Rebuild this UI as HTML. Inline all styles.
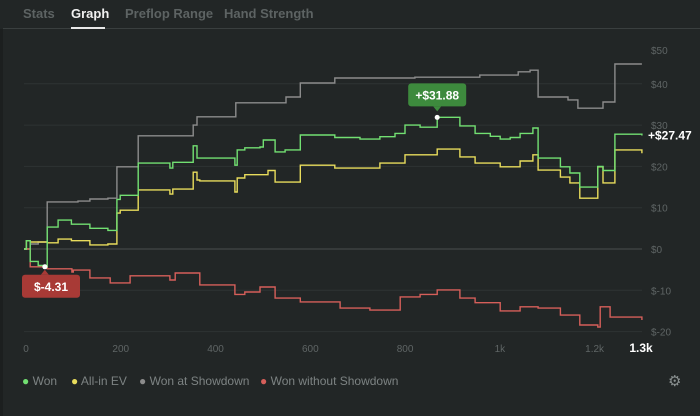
<!DOCTYPE html>
<html><head><meta charset="utf-8"><style>
body{margin:0;background:#222626;width:700px;height:416px;overflow:hidden;font-family:"Liberation Sans",sans-serif;}
.tab{position:absolute;top:6px;font-size:13px;font-weight:bold;color:#5d6363;}
.lg{position:absolute;top:374px;font-size:12px;color:#7d8383;white-space:nowrap}
</style></head><body>
<div style="position:absolute;left:0;top:29px;width:3px;height:387px;background:#1c1f1f"></div>
<div class="tab" style="left:23px">Stats</div>
<div class="tab" style="left:71px;color:#f0f0f0">Graph</div>
<div class="tab" style="left:125px">Preflop Range</div>
<div class="tab" style="left:224px">Hand Strength</div>
<div style="position:absolute;left:3px;top:28px;width:697px;height:1px;background:#3a3f3f"></div>
<div style="position:absolute;left:71px;top:27px;width:34px;height:2px;background:#e8e8e8"></div>
<svg id="chart" width="700" height="416" style="position:absolute;left:0;top:0"></svg>
<script>
const xTicks=[0,200,400,600,800,1000,1200];
const xTickLabels=["0","200","400","600","800","1k","1.2k"];
const yTicks=[-20,-10,0,10,20,30,40,50];
const yTickLabels=["$-20","$-10","$0","$10","$20","$30","$40","$50"];
const wonHands=[0,5,13,30,44,49,72,100,139,177,196,203,241,308,314,357,365,371,445,450,466,498,505,530,551,583,656,709,751,783,804,836,872,920,952,984,1005,1026,1047,1074,1085,1132,1152,1173,1211,1222,1247,1304];
const wonValues=[0,2,-3,-4,-4.31,5.3,7,6,5,4.5,12,13,20.8,19.6,21,25,22,22,20.3,24,24.5,24.7,26.4,23.5,24,27.6,27,26.6,27.2,28,30,29.5,31.88,29.8,28,27.3,26.6,27,28,29.3,22,19.9,18.4,15,20,19,27.8,27.47];
const evHands=[0,5,13,49,72,100,139,177,196,203,241,308,314,357,365,371,445,450,466,498,515,530,583,656,751,804,872,920,952,1005,1047,1074,1085,1132,1152,1173,1211,1222,1247,1304];
const evValues=[0,2,1.7,1.5,2.4,2,1,1.2,8.7,9.4,14.3,13.3,14.5,18.6,16.7,16.5,13.8,17.2,18,18,19,16.2,20.3,19.6,20.8,22.8,24.2,22.3,20.8,19.9,21.3,22.8,19.1,17.4,16,12.3,19.9,16,24,23.2];
const sdHands=[0,13,30,49,114,139,177,196,241,357,365,447,553,583,656,825,962,1043,1068,1085,1148,1169,1222,1247,1304];
const sdValues=[0,1.2,1.7,11.4,11.6,12.1,12.3,19.9,27.4,30,32,35.4,36.8,40.2,41.4,41.6,42.1,42.9,43.3,36.8,36.1,34.1,35.6,44.8,44.8];
const nsdHands=[0,13,49,101,104,139,182,224,308,319,371,445,466,498,530,583,667,730,794,836,872,920,952,1005,1047,1085,1132,1173,1211,1216,1237,1304];
const nsdValues=[0,-4.3,-4.8,-5.6,-5.1,-7,-8.2,-6.5,-7.5,-5.8,-8.7,-11,-10.4,-9.2,-11.9,-12.8,-14.3,-14.8,-11.6,-11,-9.9,-11.9,-13,-15,-14,-14.3,-16,-18.4,-18.9,-14,-16.5,-17.2];

const NS="http://www.w3.org/2000/svg";
const svg=document.getElementById('chart');
const X=h=>24+h*(616/1300);
const Y=v=>249-v*4.13;
function mk(tag,attrs,text){const e=document.createElementNS(NS,tag);for(const k in attrs)e.setAttribute(k,attrs[k]);if(text!==undefined)e.textContent=text;svg.appendChild(e);return e;}
yTicks.forEach((t,i)=>{
  if(t<50){const g=mk('line',{x1:24,x2:642,y1:Y(t),y2:Y(t),stroke:t===0?'#4a4f4f':'#2e3333','stroke-width':1});
  
  }
  const l=mk('text',{x:651,y:(t===50?54:Y(t)+4),fill:'#5f6565','font-size':10},yTickLabels[i]);
  
  
});
xTicks.forEach((t,i)=>{
  const l=mk('text',{x:X(t)+2,y:352,fill:'#5f6565','font-size':10,'text-anchor':'middle'},xTickLabels[i]);
  
  
});
const hl=mk('text',{x:641,y:352,fill:'#ffffff','font-size':12,'font-weight':'bold','text-anchor':'middle'},'1.3k');


function stepPath(hs,vs){let d='M'+X(hs[0])+','+Y(vs[0]);for(let i=1;i<hs.length;i++){d+=' H'+X(hs[i]).toFixed(1)+' V'+Y(vs[i]).toFixed(1);}return d;}
[[sdHands,sdValues,'#8c8c8c','won-at-showdown-line'],[nsdHands,nsdValues,'#d65f5a','won-without-showdown-line'],[evHands,evValues,'#e8dc5c','all-in-ev-line'],[wonHands,wonValues,'#72e072','won-line']].forEach(s=>{
  const p=mk('path',{d:stepPath(s[0],s[1]),fill:'none',stroke:s[2],'stroke-width':1.4});
  
  
});
const maxI=wonValues.indexOf(Math.max(...wonValues)), minI=wonValues.indexOf(Math.min(...wonValues));
const mx=X(wonHands[maxI]),my=Y(wonValues[maxI]);
const m1=mk('circle',{cx:mx,cy:my,r:2.5,fill:'#fff'});


const b1=mk('rect',{x:mx-29,y:my-34,width:58,height:23,rx:3,fill:'#3d8a3d'});


mk('path',{d:`M${mx-4},${my-11} L${mx},${my-6} L${mx+4},${my-11}Z`,fill:'#3d8a3d'});
const t1=mk('text',{x:mx,y:my-18,fill:'#fff','font-size':12,'font-weight':'bold','text-anchor':'middle'},'+$'+wonValues[maxI].toFixed(2));


const nx=X(wonHands[minI]),ny=Y(wonValues[minI]);
const m2=mk('circle',{cx:nx,cy:ny,r:2.5,fill:'#fff'});


mk('path',{d:`M${nx-4},${ny+8} L${nx},${ny+3} L${nx+4},${ny+8}Z`,fill:'#a83a36'});
const b2=mk('rect',{x:22,y:ny+8,width:58,height:23,rx:3,fill:'#a83a36'});


const t2=mk('text',{x:51,y:ny+24,fill:'#fff','font-size':12,'font-weight':'bold','text-anchor':'middle'},'$'+wonValues[minI].toFixed(2));


const last=wonValues[wonValues.length-1];
const t3=mk('text',{x:648,y:Y(last)+4,fill:'#fff','font-size':12,'font-weight':'bold'},'+$'+last.toFixed(2));


</script>
<span class="lg" style="left:22px"><span style="color:#72e072">●</span> Won</span>
<span class="lg" style="left:71px"><span style="color:#e8dc5c">●</span> All-in EV</span>
<span class="lg" style="left:139px"><span style="color:#8c8c8c">●</span> Won at Showdown</span>
<span class="lg" style="left:260px"><span style="color:#d65f5a">●</span> Won without Showdown</span>
<div style="position:absolute;left:668px;top:372px;font-size:15px;color:#8a9090">⚙</div>
</body></html>
